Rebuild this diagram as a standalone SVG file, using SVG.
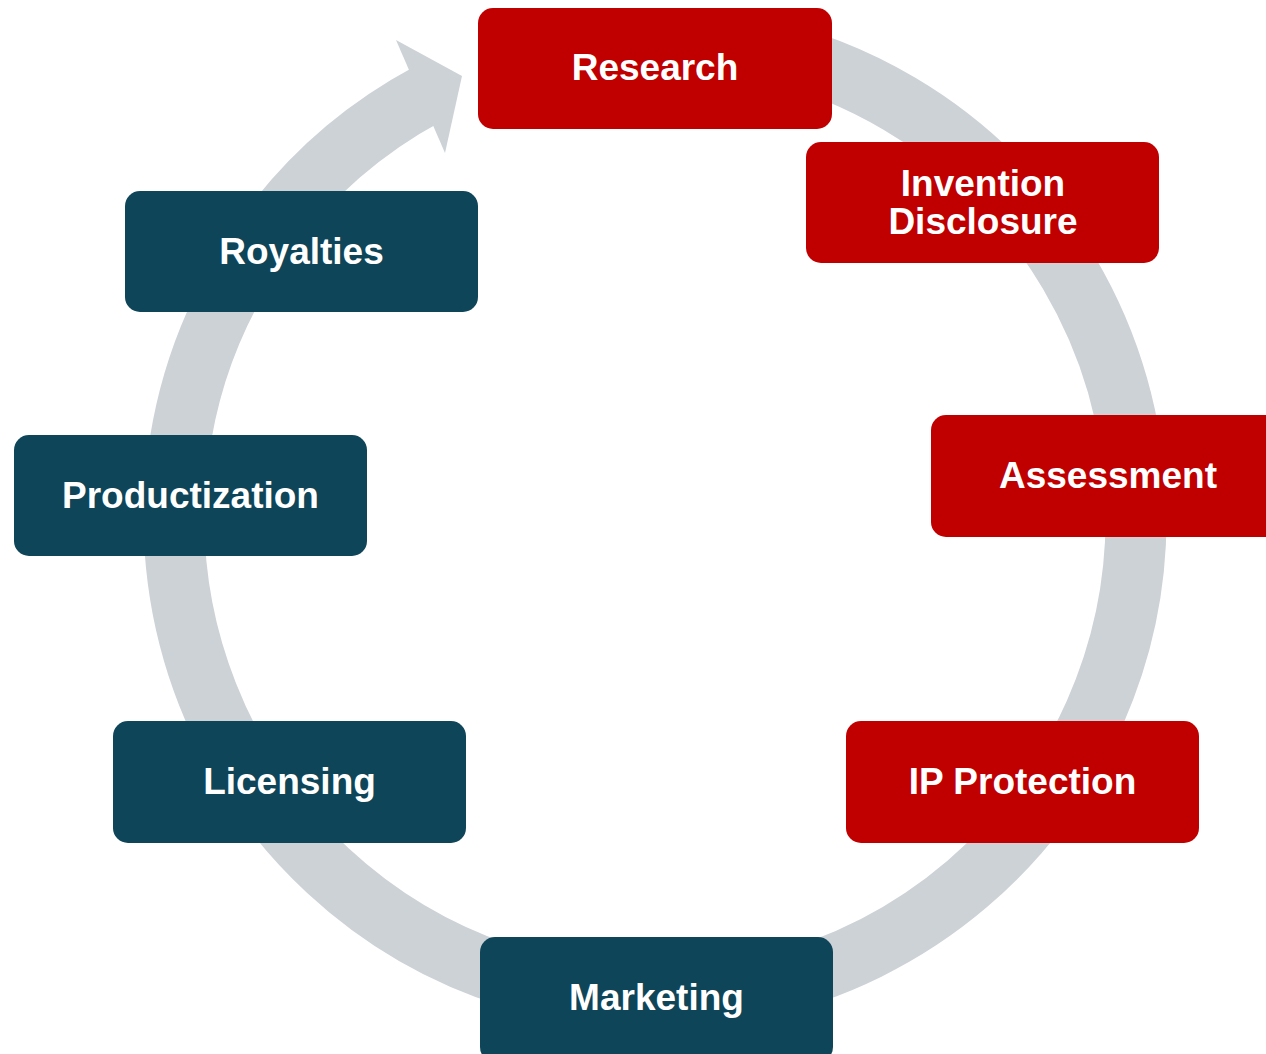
<svg xmlns="http://www.w3.org/2000/svg" width="1266" height="1054" viewBox="0 0 1266 1054">
<style>
.red{fill:#C00000}
.teal{fill:#0E4559}
.lbl{font-family:"Liberation Sans",Arial,sans-serif;font-weight:bold;font-size:37px;fill:#FFFFFF;text-anchor:middle}
.ring{fill:none;stroke:#CDD2D6;stroke-width:61}
</style>
<rect width="1266" height="1054" fill="#FFFFFF"/>
<g id="connectors">
<path class="ring" d="M 696.9 38.8 A 481 481 0 1 1 427.7 94.1"/>
<polygon points="396,40 462,76 445,153" fill="#CDD2D6"/>
</g>
<g id="research"><rect class="red" x="478" y="8" width="354" height="121" rx="15"/><text class="lbl" x="655" y="80">Research</text></g>
<g id="invention-disclosure"><rect class="red" x="806" y="142" width="353" height="121" rx="15"/><text class="lbl" x="983" y="196">Invention</text><text class="lbl" x="983" y="234">Disclosure</text></g>
<g id="assessment"><rect class="red" x="931" y="415" width="353" height="122" rx="15"/><text class="lbl" x="1108" y="488">Assessment</text></g>
<g id="ip-protection"><rect class="red" x="846" y="721" width="353" height="122" rx="15"/><text class="lbl" x="1022.5" y="794">IP Protection</text></g>
<g id="marketing"><rect class="teal" x="480" y="937" width="353" height="125" rx="15"/><text class="lbl" x="656.5" y="1010">Marketing</text></g>
<g id="licensing"><rect class="teal" x="113" y="721" width="353" height="122" rx="15"/><text class="lbl" x="289.5" y="794">Licensing</text></g>
<g id="productization"><rect class="teal" x="14" y="435" width="353" height="121" rx="15"/><text class="lbl" x="190.5" y="508">Productization</text></g>
<g id="royalties"><rect class="teal" x="125" y="191" width="353" height="121" rx="15"/><text class="lbl" x="301.5" y="264">Royalties</text></g>
</svg>
